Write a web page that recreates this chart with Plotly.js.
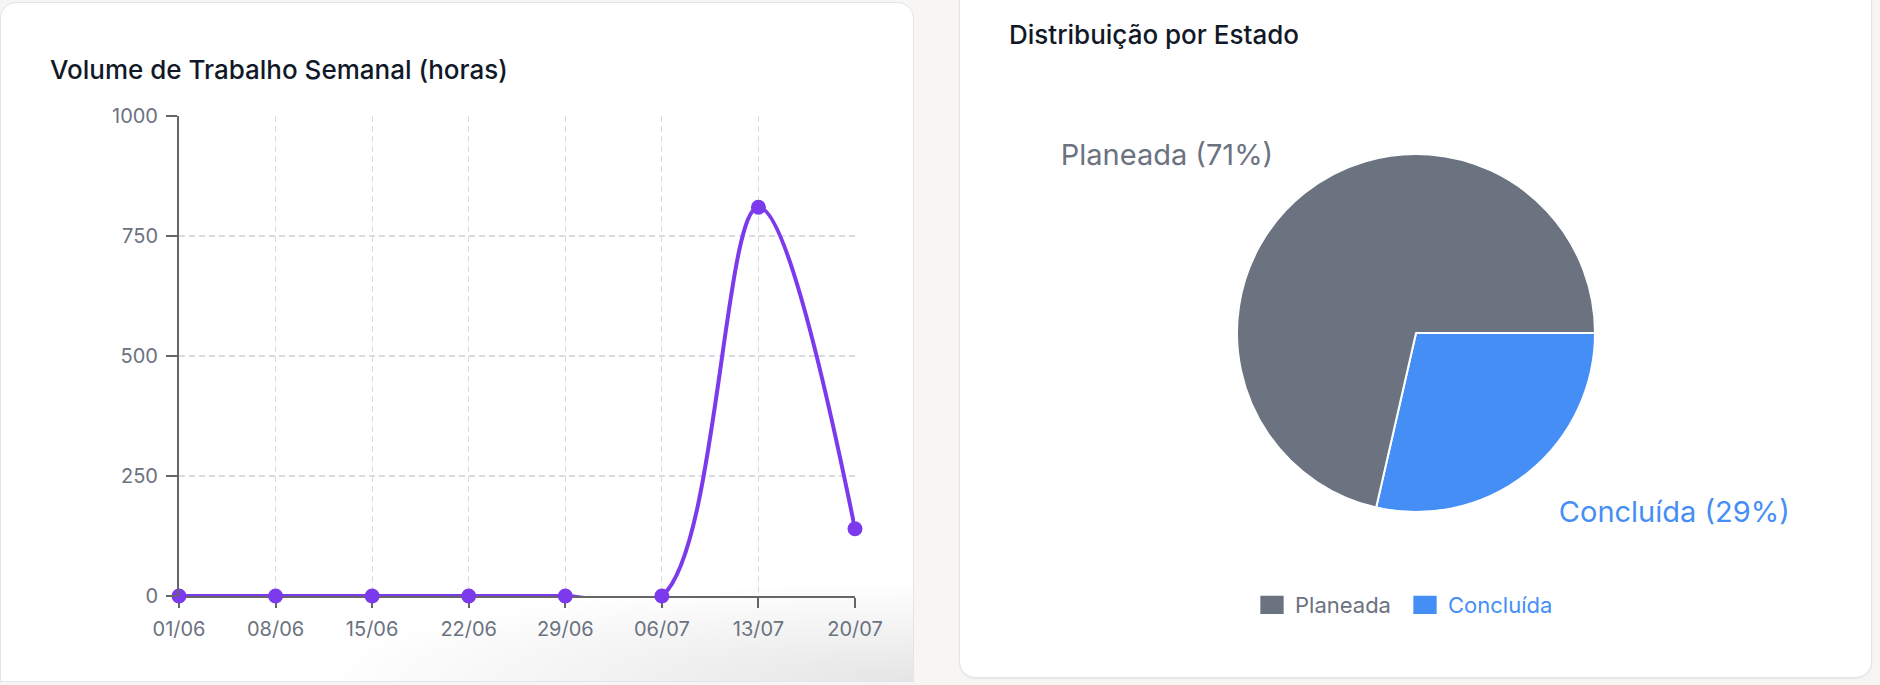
<!DOCTYPE html>
<html><head><meta charset="utf-8">
<script src="https://cdn.plot.ly/plotly-3.0.1.min.js"></script>
<style>
html,body{margin:0;padding:0;background:#f7f6f4;width:1880px;height:685px;overflow:hidden;font-family:Inter,sans-serif}
.card{position:absolute;background:#fff;border:1px solid #e3e3ea;box-sizing:border-box}
#c1{left:0;top:2px;width:914px;height:680px;border-radius:16px 16px 0 0;
  background: radial-gradient(ellipse 600px 100px at 100% 100%, rgba(0,0,0,0.10), rgba(0,0,0,0)) , #fff;}
#c2{left:959px;top:-30px;width:913px;height:708px;border-radius:16px;box-shadow:0 1px 2px rgba(0,0,0,0.06)}
#line{position:absolute;left:0;top:0;width:940px;height:685px}
#pie{position:absolute;left:940px;top:0;width:940px;height:685px}
#pie path.legendpie{transform:translate(17px,0) scale(2.33,1.83)}
</style></head>
<body>
<div class="card" id="c1"></div><div class="card" id="c2"></div>
<div id="line"></div><div id="pie"></div>
<script>
// ---- data ----
const weeks = ["01/06","08/06","15/06","22/06","29/06","06/07","13/07","20/07"];
const hours = [0, 0, 0, 0, 0, 0, 810, 140];
const yTicks = [0, 250, 500, 750, 1000];
const statusLabels = ["Concluída", "Planeada"];
const statusValues = [2, 5];

// ---- styles ----
const purple = "#7c3aed";
const statusColors = ["#448ef6", "#6b7280"];
const tickFont = {family: "Inter", size: 20, color: "#6b7280"};
const titleFont = {family: "Inter", size: 26, color: "#111827", weight: 500};
const gridStyle = {showgrid: true, gridcolor: "#dadae0", griddash: "6px,4px", gridwidth: 1.2};
const axisStyle = {showline: true, linecolor: "#666", linewidth: 2, ticks: "outside", tickwidth: 2, tickcolor: "#666", zeroline: false, fixedrange: true, tickfont: tickFont};

Plotly.newPlot("line", [{
  type: "scatter", mode: "lines+markers", x: weeks, y: hours,
  line: {color: purple, width: 4, shape: "spline", smoothing: 1},
  marker: {color: purple, size: 15},
  cliponaxis: false, hoverinfo: "x+y"
}], {
  width: 940, height: 685,
  paper_bgcolor: "rgba(0,0,0,0)", plot_bgcolor: "rgba(0,0,0,0)",
  margin: {l: 179, r: 85, t: 116, b: 89, pad: 0},
  showlegend: false,
  title: {text: "Volume de Trabalho Semanal (horas)", font: titleFont,
          x: 50/940, xref: "container", xanchor: "left", y: 1 - 70/685, yref: "container", yanchor: "middle"},
  xaxis: Object.assign({type: "category", range: [0, weeks.length - 1], ticklen: 10, ticklabelstandoff: 4, layer: "below traces"}, gridStyle, axisStyle),
  yaxis: Object.assign({range: [0, 1000], tickvals: yTicks, ticklen: 11, ticklabelstandoff: 4}, gridStyle, axisStyle)
}, {displayModeBar: false, staticPlot: true});

const legendLabels = statusLabels.map((l, i) => '<span style="color:' + statusColors[i] + '">' + l + '</span>');
const pieCommon = {type: "pie", labels: legendLabels, values: statusValues, sort: false,
  direction: "clockwise", rotation: 90, hoverinfo: "skip"};
Plotly.newPlot("pie", [
  Object.assign({}, pieCommon, {
    marker: {colors: statusColors, line: {color: "#ffffff", width: 2}},
    textinfo: "none",
    domain: {x: [297/940, 655/940], y: [173/685, 531/685]}
  }),
  Object.assign({}, pieCommon, {
    marker: {colors: ["rgba(0,0,0,0)", "rgba(0,0,0,0)"], line: {width: 0}},
    textposition: "outside", texttemplate: "%{label} (%{percent:.0%})",
    textfont: {family: "Inter", size: 29, color: statusColors},
    showlegend: false,
    domain: {x: [261/940, 691/940], y: [137/685, 567/685]}
  })
], {
  width: 940, height: 685,
  paper_bgcolor: "rgba(0,0,0,0)",
  margin: {l: 0, r: 0, t: 0, b: 0},
  title: {text: "Distribuição por Estado", font: titleFont,
          x: 69/940, xref: "container", xanchor: "left", y: 1 - 35/685, yref: "container", yanchor: "middle"},
  showlegend: true,
  legend: {orientation: "h", traceorder: "reversed", entrywidth: 108, x: 468/940, xanchor: "center", y: 80/685, yanchor: "middle",
           font: {family: "Inter", size: 22, color: "#6b7280"}, bgcolor: "rgba(0,0,0,0)"}
}, {displayModeBar: false, staticPlot: true});
</script>
</body></html>
